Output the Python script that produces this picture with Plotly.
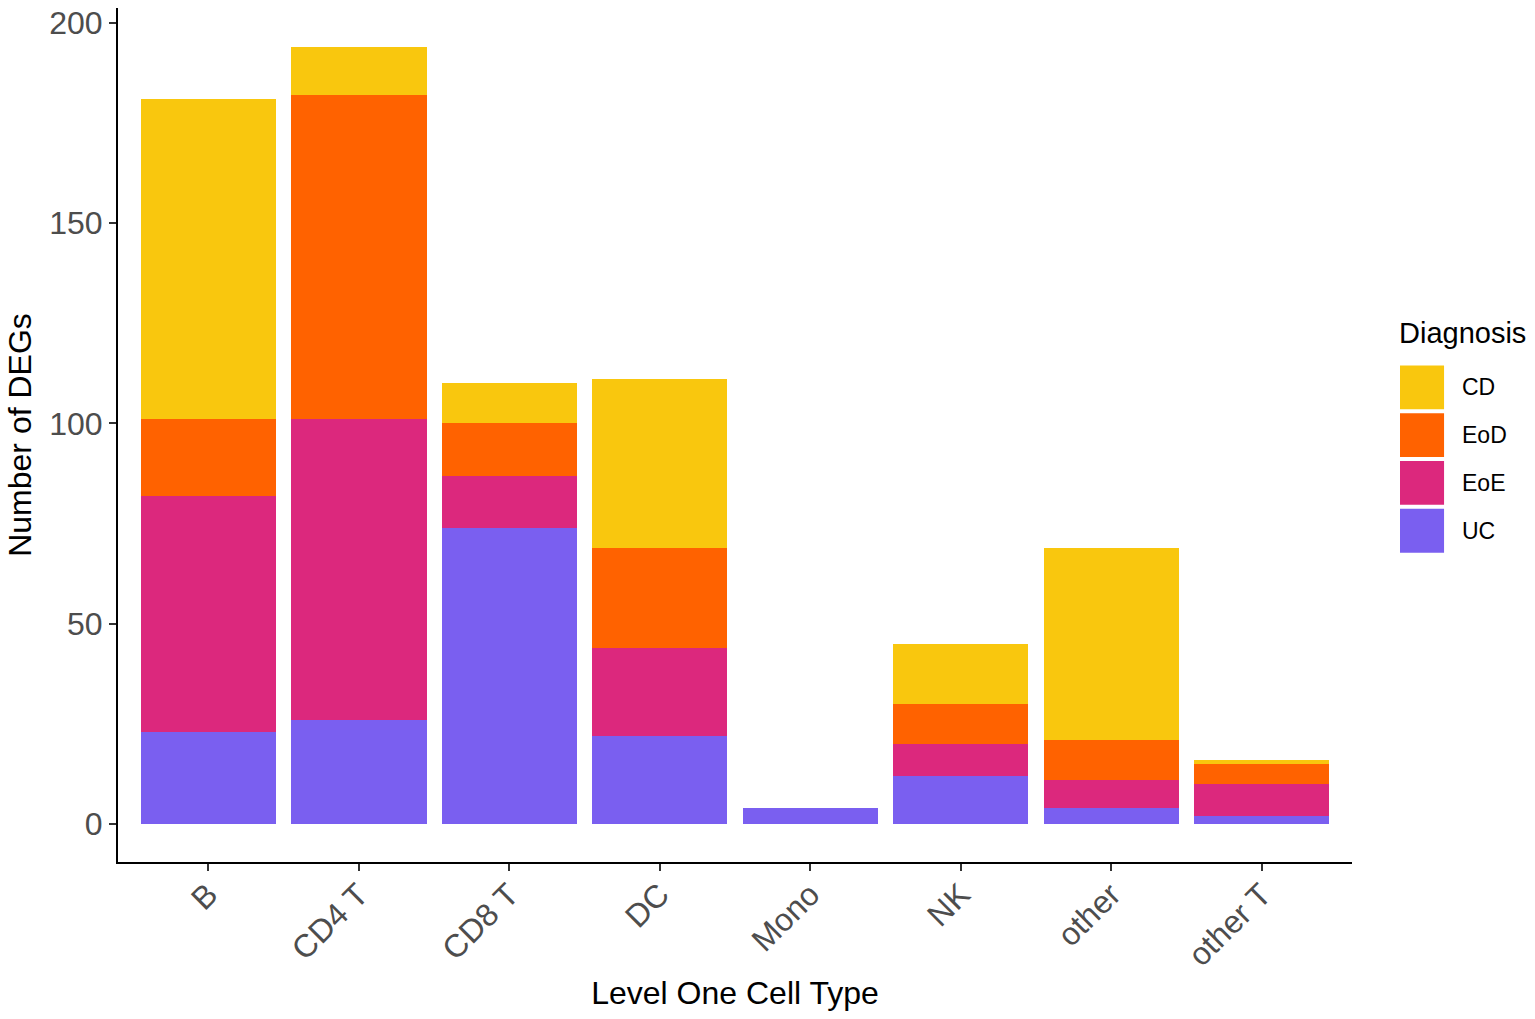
import plotly.graph_objects as go

# Data
cell_types = ["B", "CD4 T", "CD8 T", "DC", "Mono", "NK", "other", "other T"]
uc = [23, 26, 74, 22, 4, 12, 4, 2]
eoe = [59, 75, 13, 22, 0, 8, 7, 8]
eod = [19, 81, 13, 25, 0, 10, 10, 5]
cd = [80, 12, 10, 42, 0, 15, 48, 1]

diagnoses = ["CD", "EoD", "EoE", "UC"]
colors = {"CD": "#F9C70E", "EoD": "#FF6200", "EoE": "#DC287D", "UC": "#7A5FF0"}
values = {"CD": cd, "EoD": eod, "EoE": eoe, "UC": uc}

FONT = "Liberation Sans, Arial, sans-serif"

fig = go.Figure()
# stack bottom-up: UC, EoE, EoD, CD
for name in ["UC", "EoE", "EoD", "CD"]:
    fig.add_trace(go.Bar(
        x=cell_types, y=values[name], name=name,
        marker=dict(color=colors[name], line=dict(width=0)),
        showlegend=False,
    ))

# hand-drawn legend with large keys (ggplot style)
key_x0, key_x1 = 1.0389, 1.0746
top = 0.5815
step = 0.056
key_h = 0.0513
for i, name in enumerate(diagnoses):
    y1 = top - i * step
    y0 = y1 - key_h
    fig.add_shape(type="rect", xref="paper", yref="paper",
                  x0=key_x0, x1=key_x1, y0=y0, y1=y1,
                  fillcolor=colors[name], line=dict(width=0))
    fig.add_annotation(xref="paper", yref="paper", x=1.0872, y=(y0 + y1) / 2,
                       text=name, showarrow=False, xanchor="left", yanchor="middle",
                       font=dict(family=FONT, size=23, color="black"))
fig.add_annotation(xref="paper", yref="paper", x=1.0365, y=0.6197,
                   text="Diagnosis", showarrow=False, xanchor="left", yanchor="middle",
                   font=dict(family=FONT, size=29, color="black"))

fig.update_layout(
    barmode="stack",
    bargap=0.1,
    width=1535, height=1019,
    margin=dict(l=118, r=183, t=5, b=157),
    plot_bgcolor="white", paper_bgcolor="white",
    font=dict(family=FONT, color="black"),
)
fig.update_xaxes(
    range=[-0.6, 7.6],
    showline=True, linecolor="black", linewidth=2,
    ticks="outside", ticklen=7, tickwidth=1.5, tickcolor="#333333",
    tickangle=-45, ticklabelstandoff=-8,
    tickfont=dict(family=FONT, size=32, color="#4D4D4D"),
    title=dict(text="Level One Cell Type", font=dict(family=FONT, size=32, color="black"),
               standoff=10),
    showgrid=False,
)
fig.update_yaxes(
    range=[-9.45, 203.7],
    tickvals=[0, 50, 100, 150, 200],
    showline=True, linecolor="black", linewidth=2,
    ticks="outside", ticklen=7, tickwidth=1.5, tickcolor="#333333",
    tickfont=dict(family=FONT, size=32, color="#4D4D4D"),
    title=dict(text="Number of DEGs", font=dict(family=FONT, size=32, color="black"),
               standoff=8),
    showgrid=False, zeroline=False,
)

fig.write_html("out.html", config={"displayModeBar": False},
               post_script="document.body.style.margin='0';")
